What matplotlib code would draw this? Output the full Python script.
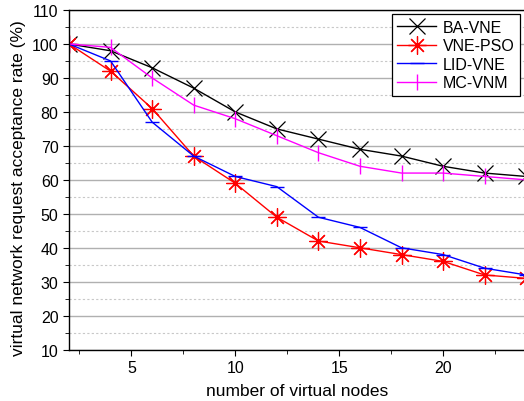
import matplotlib.pyplot as plt
from matplotlib.ticker import MultipleLocator

plt.rcParams['font.family'] = ['Liberation Sans', 'DejaVu Sans']

# dados
nos = [2, 4, 6, 8, 10, 12, 14, 16, 18, 20, 22, 24]
ba_vne = [100, 98, 93, 87, 80, 75, 72, 69, 67, 64, 62, 61]
vne_pso = [100, 92, 81, 67, 59, 49, 42, 40, 38, 36, 32, 31]
lid_vne = [100, 95, 77, 67, 61, 58, 49, 46, 40, 38, 34, 32]
mc_vnm = [100, 99, 90, 82, 78, 73, 68, 64, 62, 62, 61, 60]

fig = plt.figure(figsize=(5.24, 4.02), dpi=100)
ax = fig.add_axes([0.1317, 0.1276, 0.8725, 0.845])

ax.plot(nos, ba_vne, color='black', lw=1, marker='x', ms=12, mew=0.9, label='BA-VNE')
ax.plot(nos, vne_pso, color='red', lw=1, marker=(8, 2, 0), ms=13, mew=0.9, label='VNE-PSO')
ax.plot(nos, lid_vne, color='blue', lw=1, marker='_', ms=10, mew=1, label='LID-VNE')
ax.plot(nos, mc_vnm, color='magenta', lw=1, marker='|', ms=11, mew=1, label='MC-VNM')

ax.set_xlim(2, 24)
ax.set_ylim(10, 110)
ax.xaxis.set_major_locator(MultipleLocator(5))
ax.xaxis.set_minor_locator(MultipleLocator(2.5))
ax.yaxis.set_major_locator(MultipleLocator(10))
ax.yaxis.set_minor_locator(MultipleLocator(5))

ax.grid(which='major', axis='y', color='#b0b0b0', lw=1, ls='-')
ax.grid(which='minor', axis='y', color='#c8c8c8', lw=0.8, ls=(0, (2, 2)))
ax.set_axisbelow(True)

ax.tick_params(which='major', direction='out', length=4, labelsize=11.5)
ax.tick_params(which='minor', direction='out', length=3)
for s in ax.spines.values():
    s.set_linewidth(1)

ax.set_xlabel('number of virtual nodes', fontsize=12.5, labelpad=6)
ax.set_ylabel('virtual network request acceptance rate (%)', fontsize=12.5)
ax.yaxis.set_label_coords(-0.095, 0.48)

leg = ax.legend(loc='upper right', bbox_to_anchor=(0.987, 0.988), fontsize=11.5,
                fancybox=False, framealpha=1, edgecolor='black',
                handlelength=2.4, borderpad=0.35, labelspacing=0.22,
                handletextpad=0.45, borderaxespad=0)
leg.get_frame().set_linewidth(0.9)

fig.savefig('out.png', dpi=100)
